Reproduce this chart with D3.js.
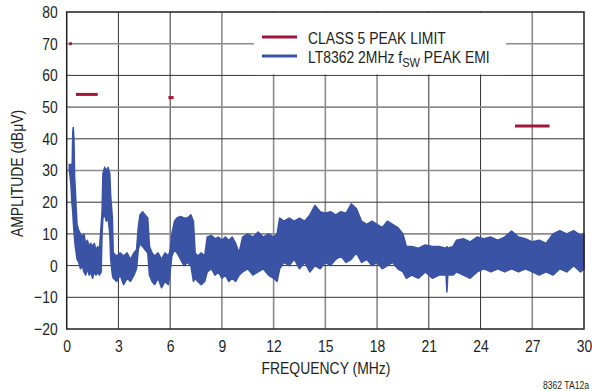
<!DOCTYPE html>
<html>
<head>
<meta charset="utf-8">
<script src="https://cdn.jsdelivr.net/npm/d3@7"></script>
<style>
  html, body { margin: 0; padding: 0; background: #fff; }
  svg text { font-family: "Liberation Sans", Arial, sans-serif; fill: #231f20; }
</style>
</head>
<body>
<div id="chart"></div>
<script>
//Chart values
var xTicks = [0, 3, 6, 9, 12, 15, 18, 21, 24, 27, 30];
var yTicks = [-20, -10, 0, 10, 20, 30, 40, 50, 60, 70, 80];

//CLASS 5 peak limit segments (MHz, dBuV)
var limitStart = [0.15, 0.53, 5.9, 26];
var limitEnd = [0.30, 1.8, 6.2, 28];
var limitLevel = [70, 54, 53, 44];

//Peak EMI trace: frequency, upper and lower edge of the band
var freqMHz = [0.15, 0.2, 0.25, 0.3, 0.35, 0.38, 0.42, 0.46, 0.5, 0.55, 0.6, 0.7, 0.8, 0.9, 1.0,
    1.1, 1.2, 1.3, 1.4, 1.5, 1.6, 1.7, 1.8, 1.9, 2.0, 2.05, 2.1, 2.2, 2.3, 2.4, 2.5, 2.55, 2.65,
    2.7, 2.9, 3.1, 3.3, 3.5, 3.7, 3.9, 4.05, 4.15, 4.25, 4.4, 4.55, 4.7, 4.8, 4.95, 5.1, 5.3,
    5.5, 5.7, 5.9, 6.0, 6.1, 6.25, 6.4, 6.6, 6.8, 7.0, 7.2, 7.35, 7.45, 7.6, 7.8, 8.0, 8.15,
    8.4, 8.6, 8.8, 9.0, 9.2, 9.4, 9.6, 9.8, 10.0, 10.2, 10.5, 10.8, 11.1, 11.4, 11.7, 12.0,
    12.2, 12.35, 12.6, 12.9, 13.2, 13.5, 13.8, 14.1, 14.4, 14.7, 15.0, 15.3, 15.6, 15.9, 16.2,
    16.5, 16.8, 17.1, 17.4, 17.7, 18.0, 18.3, 18.6, 18.9, 19.2, 19.5, 19.7, 20.0, 20.4, 20.8,
    21.2, 21.6, 22.0, 22.05, 22.1, 22.4, 22.6, 23.0, 23.4, 23.8, 24.2, 24.6, 25.0, 25.4, 25.8,
    26.2, 26.6, 27.0, 27.4, 27.8, 28.2, 28.6, 29.0, 29.4, 29.8, 30.0];
var emiHigh = [32, 31, 32, 26, 42, 43.6, 40, 28, 24, 18, 13, 11, 10, 9, 10,
    7, 8, 6, 7, 6, 7, 5, 6, 5, 13, 17, 29, 31, 30, 31, 29, 22, 15,
    4, 3, 4, 3, 4, 2, 4, 5, 12, 16, 17, 16, 15, 6, 4, 3, 4,
    2, 4, 3, 5, 10, 14, 15, 15.5, 15, 15, 16, 14, 4, 3, 4, 3, 9,
    9.5, 8.5, 9, 8, 9, 8, 9, 7, 4, 9, 10, 9, 10.6, 9, 10, 9,
    10, 15, 14, 15, 14, 15, 14, 16, 19, 17, 16.5, 17, 16, 17, 16.5,
    19.5, 18, 14, 13, 14, 13, 12, 14, 13, 12, 10, 6, 6, 5.5, 6.5,
    6, 6, 5.5, 6, 5.5, 6, 8, 8.5, 7.5, 9, 8.5, 9, 8, 9, 10.9,
    9, 8.5, 7.5, 8, 7, 10, 11, 10, 11, 9.5, 10];
var emiLow = [30, 28, 25, 20, 17, 14, 11, 8, 6, 4, 2, 1, -1, 0, -2,
    -3, -1, -3, -2, -4, -2, -3, -2, -3, -2, 10, 15, 16, 14, 15, 10, 2, -3,
    -4, -5, -3, -6, -4, -5, -3, -1, 5, 7, 6, 5, 4, -3, -5, -6, -4,
    -7, -5, -6, -2, 3, 5, 4, 2, 0, 1, 0, -5, -4, -5, -6, -5, -2,
    -1, -3, -2, -4, -3, -5, -4, -5, -3, -2, -1, -3, -2, -1, -3, -4,
    -5, -1, 1, 0, 2, -1, 1, -2, 0, -1, 1, 0, 2, 3, 1,
    2, 4, 1, 2, 0, 1, -1, 0, 1, -1, -2, -4, -3, -4, -2,
    -4, -3, -3, -8.3, -3, -3, -2, -3, -4, -2, -1, -2, -1, -2, -1,
    -2, -1, -2, -3, -2, -3, -1, -2, 0, -2, -1];

//System dimensions
var width = 592;
var height = 391;
var margin = { left: 66.7, right: 8, top: 12, bottom: 62 };
var squeeze = 0.82; //condensed type look

var x = d3.scaleLinear()
    .domain([0, 30])
    .range([margin.left, width - margin.right]);
var y = d3.scaleLinear()
    .domain([-20, 80])
    .range([height - margin.bottom, margin.top]);

var svg = d3.select("#chart")
    .append("svg")
    .attr("width", width)
    .attr("height", height);

//Squeeze text horizontally around its own x position
function narrow(sel) {
    sel.each(function() {
        var t = d3.select(this);
        var tx = +t.attr("x") || 0;
        var prev = t.attr("transform") || "";
        t.attr("x", 0)
            .attr("transform", prev + " translate(" + tx + ",0) scale(" + squeeze + ",1)");
    });
}

//Grid lines (some print lighter in the reference)
var greyX = [9, 12, 15, 18, 27];
var greyY = [10, 30, 50, 70];

svg.append("g")
    .selectAll("line")
    .data(xTicks.slice(1, -1))
    .enter()
    .append("line")
    .attr("x1", function(d) { return x(d); })
    .attr("x2", function(d) { return x(d); })
    .attr("y1", y(80))
    .attr("y2", y(-20))
    .style("stroke", function(d) { return greyX.indexOf(d) >= 0 ? "#8c8c8c" : "#333"; })
    .style("stroke-width", function(d) { return greyX.indexOf(d) >= 0 ? 1.6 : 1; });

svg.append("g")
    .selectAll("line")
    .data(yTicks.slice(1, -1))
    .enter()
    .append("line")
    .attr("x1", x(0))
    .attr("x2", x(30))
    .attr("y1", function(d) { return y(d); })
    .attr("y2", function(d) { return y(d); })
    .style("stroke", function(d) { return greyY.indexOf(d) >= 0 ? "#8c8c8c" : "#333"; })
    .style("stroke-width", function(d) { return greyY.indexOf(d) >= 0 ? 1.6 : 1; });

//Legend background hides the grid behind it
svg.append("rect")
    .attr("x", 254)
    .attr("y", y(80) + 1)
    .attr("width", 252)
    .attr("height", y(60) - y(80) - 2)
    .style("fill", "#fff");

//EMI band
var emi = freqMHz.map(function(f, i) {
    return { f: f, hi: emiHigh[i], lo: emiLow[i] };
});

var band = d3.area()
    .x(function(d) { return x(d.f); })
    .y0(function(d) { return y(d.lo); })
    .y1(function(d) { return y(d.hi); });

svg.append("path")
    .datum(emi)
    .attr("d", band)
    .style("fill", "#3a53a4")
    .style("stroke", "#3a53a4")
    .style("stroke-width", 1.5)
    .style("stroke-linejoin", "round");

//Limit segments
svg.append("g")
    .selectAll("line")
    .data(limitLevel)
    .enter()
    .append("line")
    .attr("x1", function(d, i) { return x(limitStart[i]); })
    .attr("x2", function(d, i) { return x(limitEnd[i]); })
    .attr("y1", function(d) { return y(d); })
    .attr("y2", function(d) { return y(d); })
    .style("stroke", "#a0173b")
    .style("stroke-width", 3);

//Frame
svg.append("rect")
    .attr("x", x(0))
    .attr("y", y(80))
    .attr("width", x(30) - x(0))
    .attr("height", y(-20) - y(80))
    .style("fill", "none")
    .style("stroke", "#231f20")
    .style("stroke-width", 1.5);

//Axes
var xAxis = d3.axisBottom(x)
    .tickValues(xTicks)
    .tickSize(0)
    .tickPadding(11);
var yAxis = d3.axisLeft(y)
    .tickValues(yTicks)
    .tickSize(0)
    .tickFormat(function(d) { return d < 0 ? "\u2212" + Math.abs(d) : d; })
    .tickPadding(9);

var gx = svg.append("g")
    .attr("transform", "translate(0," + y(-20) + ")")
    .call(xAxis)
    .call(function(g) { g.select(".domain").remove(); });

var gy = svg.append("g")
    .attr("transform", "translate(" + x(0) + ",0)")
    .call(yAxis)
    .call(function(g) { g.select(".domain").remove(); });

svg.selectAll(".tick text")
    .style("font-family", "'Liberation Sans', Arial, sans-serif")
    .style("font-size", "17px")
    .style("fill", "#231f20")
    .call(narrow);

//Axis titles
svg.append("text")
    .attr("x", 326)
    .attr("y", 374)
    .attr("text-anchor", "middle")
    .style("font-size", "17px")
    .text("FREQUENCY (MHz)")
    .call(narrow);

svg.append("text")
    .attr("transform", "translate(22.5,173.5) rotate(-90)")
    .attr("text-anchor", "middle")
    .style("font-size", "17px")
    .text("AMPLITUDE (dB\u03bcV)")
    .call(narrow);

//Legend
svg.append("line")
    .attr("x1", 262).attr("x2", 297)
    .attr("y1", 37).attr("y2", 37)
    .style("stroke", "#a0173b")
    .style("stroke-width", 3);
svg.append("line")
    .attr("x1", 262).attr("x2", 297)
    .attr("y1", 56).attr("y2", 56)
    .style("stroke", "#3a53a4")
    .style("stroke-width", 3);

svg.append("text")
    .attr("x", 308)
    .attr("y", 44.5)
    .style("font-size", "17px")
    .text("CLASS 5 PEAK LIMIT")
    .call(narrow);

var lt = svg.append("text")
    .attr("x", 308)
    .attr("y", 63.5)
    .style("font-size", "17px");
lt.append("tspan").text("LT8362 2MHz f");
lt.append("tspan").attr("dy", 4).style("font-size", "13.5px").text("SW");
lt.append("tspan").attr("dy", -4).text(" PEAK EMI");
lt.call(narrow);

svg.append("text")
    .attr("x", 589)
    .attr("y", 389)
    .attr("text-anchor", "end")
    .style("font-size", "10.5px")
    .text("8362 TA12a")
    .call(narrow);
</script>
</body>
</html>
